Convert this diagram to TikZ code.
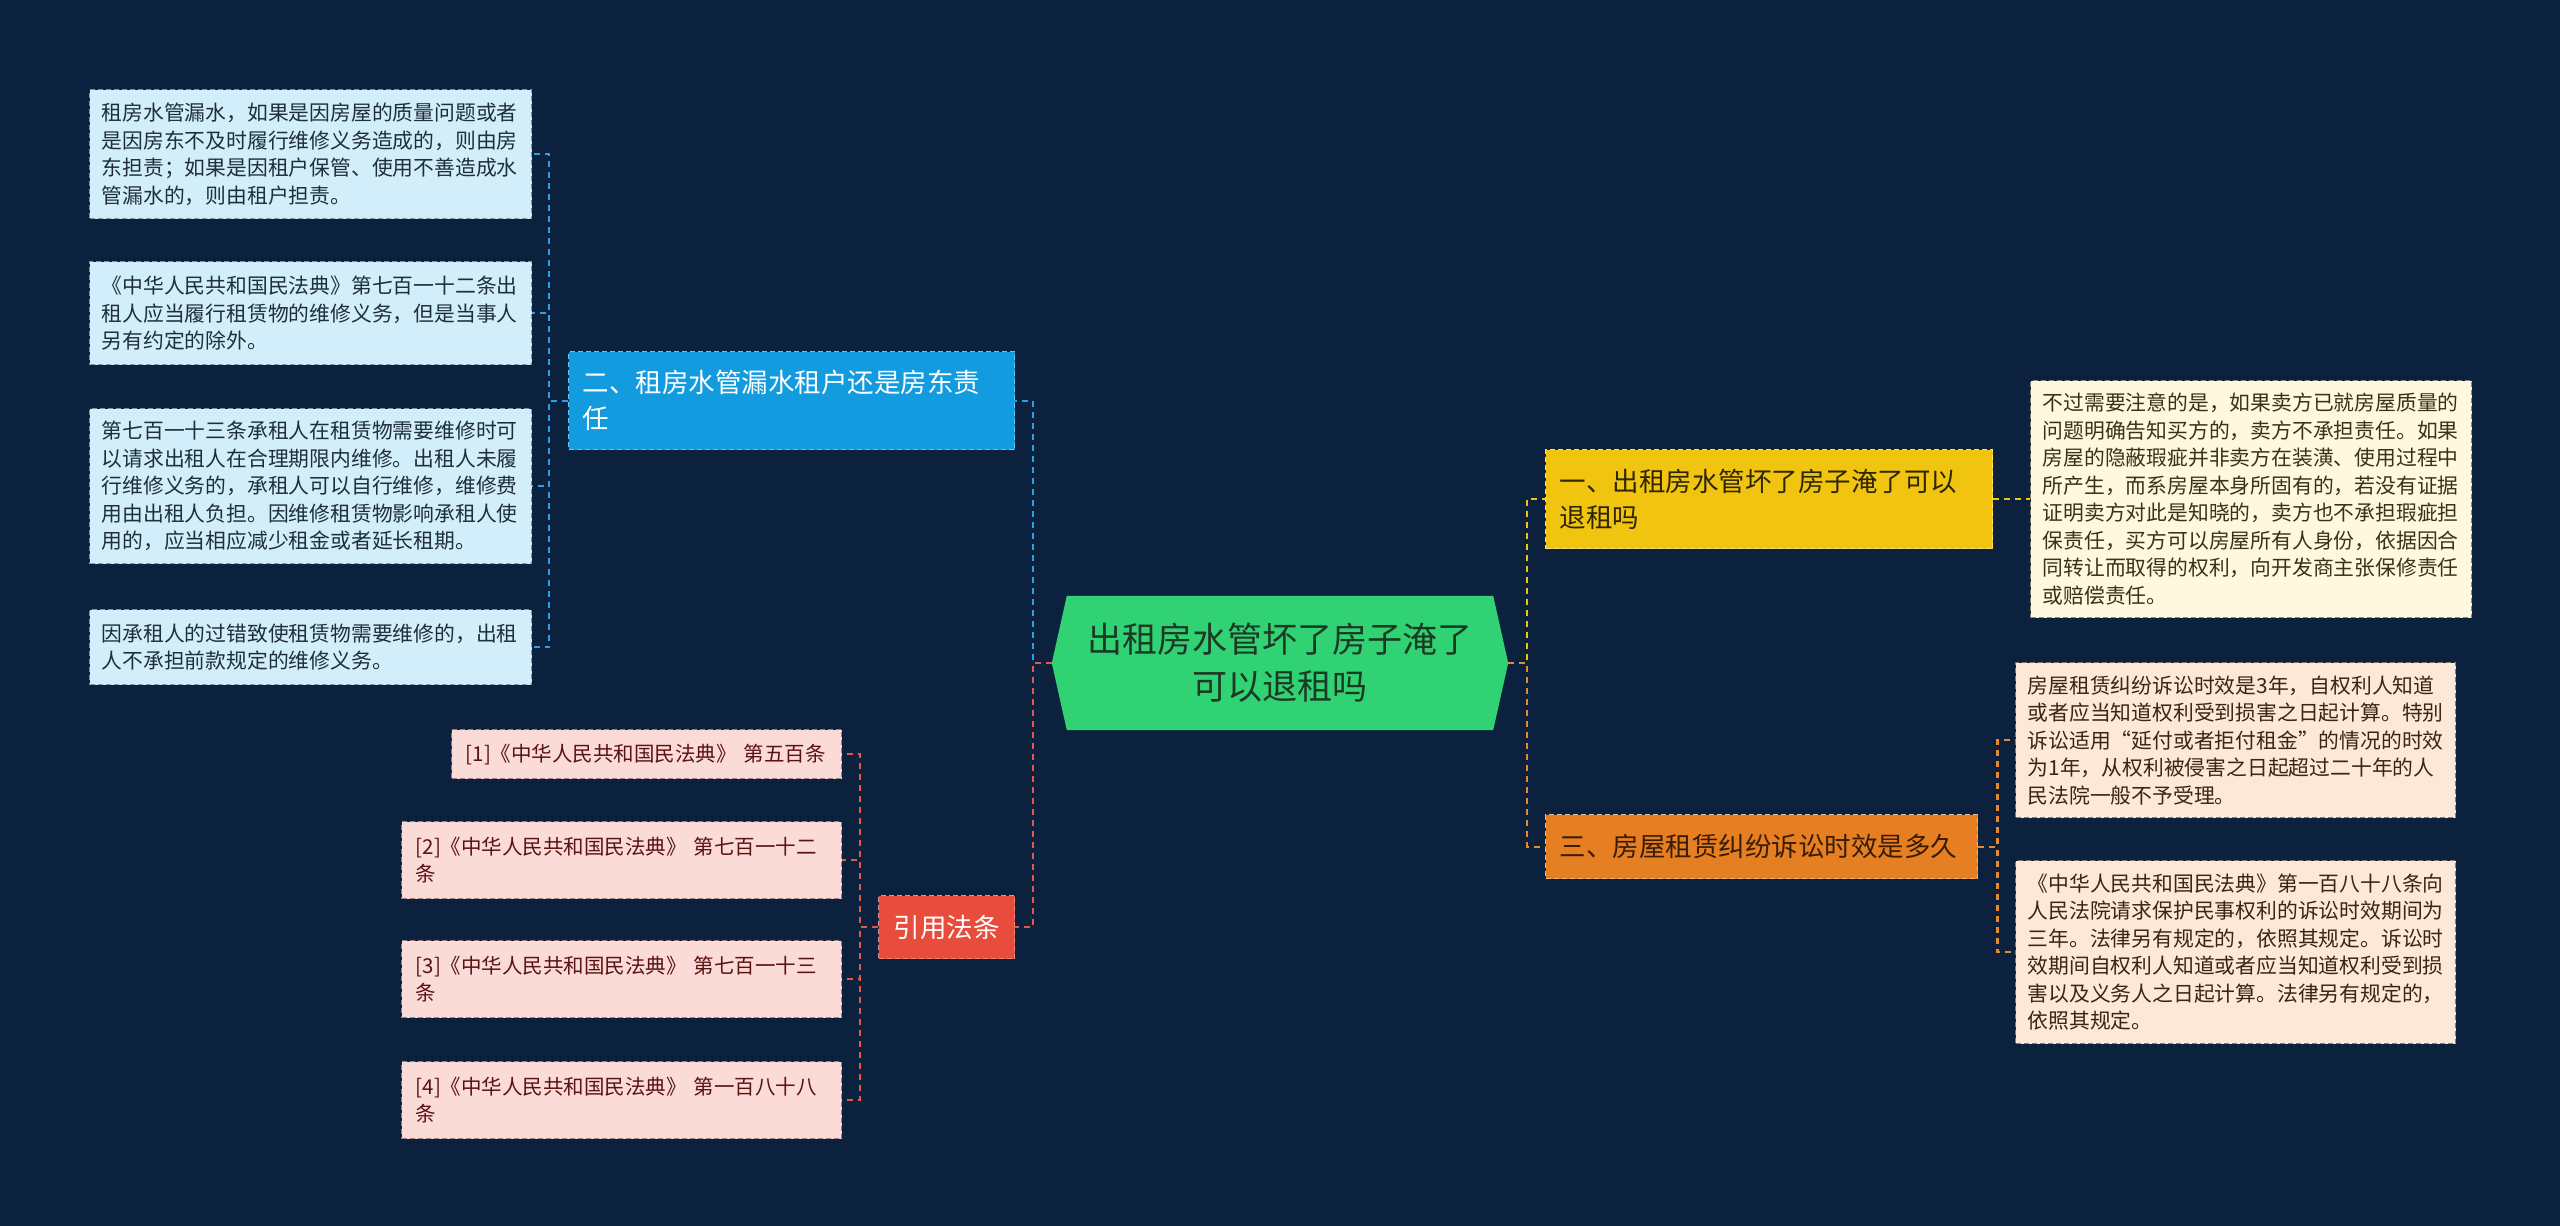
\documentclass[tikz,border=0pt]{standalone}
\usepackage{fontspec}
\setmainfont{Noto Sans CJK SC}
\usetikzlibrary{calc,backgrounds}
\definecolor{bg}{HTML}{0B213E}
\definecolor{rootg}{HTML}{31D274}
\definecolor{roottxt}{HTML}{1B3A24}
\definecolor{bluef}{HTML}{129BDF}
\definecolor{blued}{HTML}{6CC4F0}
\definecolor{leafb}{HTML}{D2EEFA}
\definecolor{leafbd}{HTML}{7F98A8}
\definecolor{leafbt}{HTML}{1F2F3A}
\definecolor{yelf}{HTML}{F1C40F}
\definecolor{yeld}{HTML}{F8E27A}
\definecolor{yelt}{HTML}{2E2600}
\definecolor{creamf}{HTML}{FEF8DF}
\definecolor{creamd}{HTML}{8C8672}
\definecolor{creamt}{HTML}{3A3214}
\definecolor{oraf}{HTML}{E67E22}
\definecolor{orad}{HTML}{F5B478}
\definecolor{orat}{HTML}{3A1C04}
\definecolor{peachf}{HTML}{FCE8D9}
\definecolor{peachd}{HTML}{8C7B6C}
\definecolor{peacht}{HTML}{3A2412}
\definecolor{redf}{HTML}{E74C3C}
\definecolor{redd}{HTML}{F28A7E}
\definecolor{pinkf}{HTML}{FADBD8}
\definecolor{pinkd}{HTML}{9C7C7A}
\definecolor{pinkt}{HTML}{5A1212}
\definecolor{cblue}{HTML}{2AA0E2}
\definecolor{cred}{HTML}{E05A4A}
\definecolor{cyel}{HTML}{F1C40F}
\definecolor{cora}{HTML}{E68A30}
\begin{document}
\begin{tikzpicture}[x=1pt,y=-1pt,
  boxbase/.style={rectangle, anchor=north west, align=left, inner ysep=0pt,
    dash pattern=on 5pt off 3pt, line width=1.4pt},
  leafl/.style={boxbase, fill=leafb, draw=leafbd, text=leafbt, inner xsep=12pt, text width=418pt,
    font=\fontsize{20.8pt}{27.5pt}\selectfont},
  leafr/.style={boxbase, fill=creamf, draw=creamd, text=creamt, inner xsep=12pt, text width=417pt,
    font=\fontsize{20.8pt}{27.5pt}\selectfont},
  leafp/.style={boxbase, fill=peachf, draw=peachd, text=peacht, inner xsep=12pt, text width=416pt,
    font=\fontsize{20.8pt}{27.5pt}\selectfont},
  leafc/.style={boxbase, fill=pinkf, draw=pinkd, text=pinkt, inner xsep=14pt,
    font=\fontsize{20.5pt}{27.5pt}\selectfont},
  branch/.style={boxbase, inner xsep=14pt, font=\fontsize{26.5pt}{36pt}\selectfont},
  conn/.style={line width=2.2pt, dash pattern=on 6pt off 5pt},
  cb/.style={conn, draw=cblue},
  cr/.style={conn, draw=cred},
  cy/.style={conn, draw=cyel},
  co/.style={conn, draw=cora}]
\useasboundingbox (0,0) rectangle (2560,1226);

% root
\node[minimum width=456pt, minimum height=134pt, inner sep=0pt, align=center, text=roottxt,
  font=\fontsize{35pt}{47pt}\selectfont] (root) at (1280,663) {出租房水管坏了房子淹了\\可以退租吗};
\begin{pgfonlayer}{background}
\fill[bg] (0,0) rectangle (2560,1226);
\fill[rootg] (root.west) -- ($(root.north west)+(15,0)$) -- ($(root.north east)+(-15,0)$) -- (root.east)
  -- ($(root.south east)+(-15,0)$) -- ($(root.south west)+(15,0)$) -- cycle;
\end{pgfonlayer}

% left branch 二
\node[branch, fill=bluef, draw=blued, text=white, text width=418pt, minimum height=98pt] (B2) at (568,351)
  {二、租房水管漏水租户还是房东责\\任};
\node[leafl, minimum height=129pt] (L1) at (89,89)
  {租房水管漏水，如果是因房屋的质量问题或者\\是因房东不及时履行维修义务造成的，则由房\\东担责；如果是因租户保管、使用不善造成水\\管漏水的，则由租户担责。};
\node[leafl, minimum height=103pt] (L2) at (89,261)
  {《中华人民共和国民法典》第七百一十二条出\\租人应当履行租赁物的维修义务，但是当事人\\另有约定的除外。};
\node[leafl, minimum height=155pt] (L3) at (89,408)
  {第七百一十三条承租人在租赁物需要维修时可\\以请求出租人在合理期限内维修。出租人未履\\行维修义务的，承租人可以自行维修，维修费\\用由出租人负担。因维修租赁物影响承租人使\\用的，应当相应减少租金或者延长租期。};
\node[leafl, minimum height=75pt] (L4) at (89,609)
  {因承租人的过错致使租赁物需要维修的，出租\\人不承担前款规定的维修义务。};

% citations
\node[branch, fill=redf, draw=redd, text=white, inner xsep=15pt, minimum height=63pt] (CIT) at (878,895) {引用法条};
\node[leafc, text width=362pt, minimum height=49pt] (C1) at (451,729)
  {[1]《中华人民共和国民法典》 第五百条};
\node[leafc, text width=412pt, minimum height=77pt] (C2) at (401,821)
  {[2]《中华人民共和国民法典》 第七百一十二\\条};
\node[leafc, text width=412pt, minimum height=77pt] (C3) at (401,940)
  {[3]《中华人民共和国民法典》 第七百一十三\\条};
\node[leafc, text width=412pt, minimum height=77pt] (C4) at (401,1061)
  {[4]《中华人民共和国民法典》 第一百八十八\\条};

% right branch 一
\node[branch, fill=yelf, draw=yeld, text=yelt, text width=419pt, minimum height=99pt] (B1) at (1545,449)
  {一、出租房水管坏了房子淹了可以\\退租吗};
\node[leafr, minimum height=237pt] (R1) at (2030,380)
  {不过需要注意的是，如果卖方已就房屋质量的\\问题明确告知买方的，卖方不承担责任。如果\\房屋的隐蔽瑕疵并非卖方在装潢、使用过程中\\所产生，而系房屋本身所固有的，若没有证据\\证明卖方对此是知晓的，卖方也不承担瑕疵担\\保责任，买方可以房屋所有人身份，依据因合\\同转让而取得的权利，向开发商主张保修责任\\或赔偿责任。};

% right branch 三
\node[branch, fill=oraf, draw=orad, text=orat, text width=404pt, minimum height=64pt] (B3) at (1545,814)
  {三、房屋租赁纠纷诉讼时效是多久};
\node[leafp, minimum height=155pt] (R2) at (2015,662)
  {房屋租赁纠纷诉讼时效是3年，自权利人知道\\或者应当知道权利受到损害之日起计算。特别\\诉讼适用“延付或者拒付租金”的情况的时效\\为1年，从权利被侵害之日起超过二十年的人\\民法院一般不予受理。};
\node[leafp, minimum height=183pt] (R3) at (2015,860)
  {《中华人民共和国民法典》第一百八十八条向\\人民法院请求保护民事权利的诉讼时效期间为\\三年。法律另有规定的，依照其规定。诉讼时\\效期间自权利人知道或者应当知道权利受到损\\害以及义务人之日起计算。法律另有规定的，\\依照其规定。};

% connectors
\draw[cb] (root.west) -- ++(-19,0) |- (B2.east);
\draw[cr] (root.west) -- ++(-19,0) |- (CIT.east);
\foreach \n in {L1,L2,L3,L4} \draw[cb] (B2.west) -- ++(-19,0) |- (\n.east);
\foreach \n in {C1,C2,C3,C4} \draw[cr] (CIT.west) -- ++(-18,0) |- (\n.east);
\draw[cy] (root.east) -- ++(19,0) |- (B1.west);
\draw[co] (root.east) -- ++(19,0) |- (B3.west);
\draw[cy] (B1.east) -- (R1.west);
\foreach \n in {R2,R3} \draw[co] (B3.east) -- ++(19,0) |- (\n.west);
\end{tikzpicture}
\end{document}
